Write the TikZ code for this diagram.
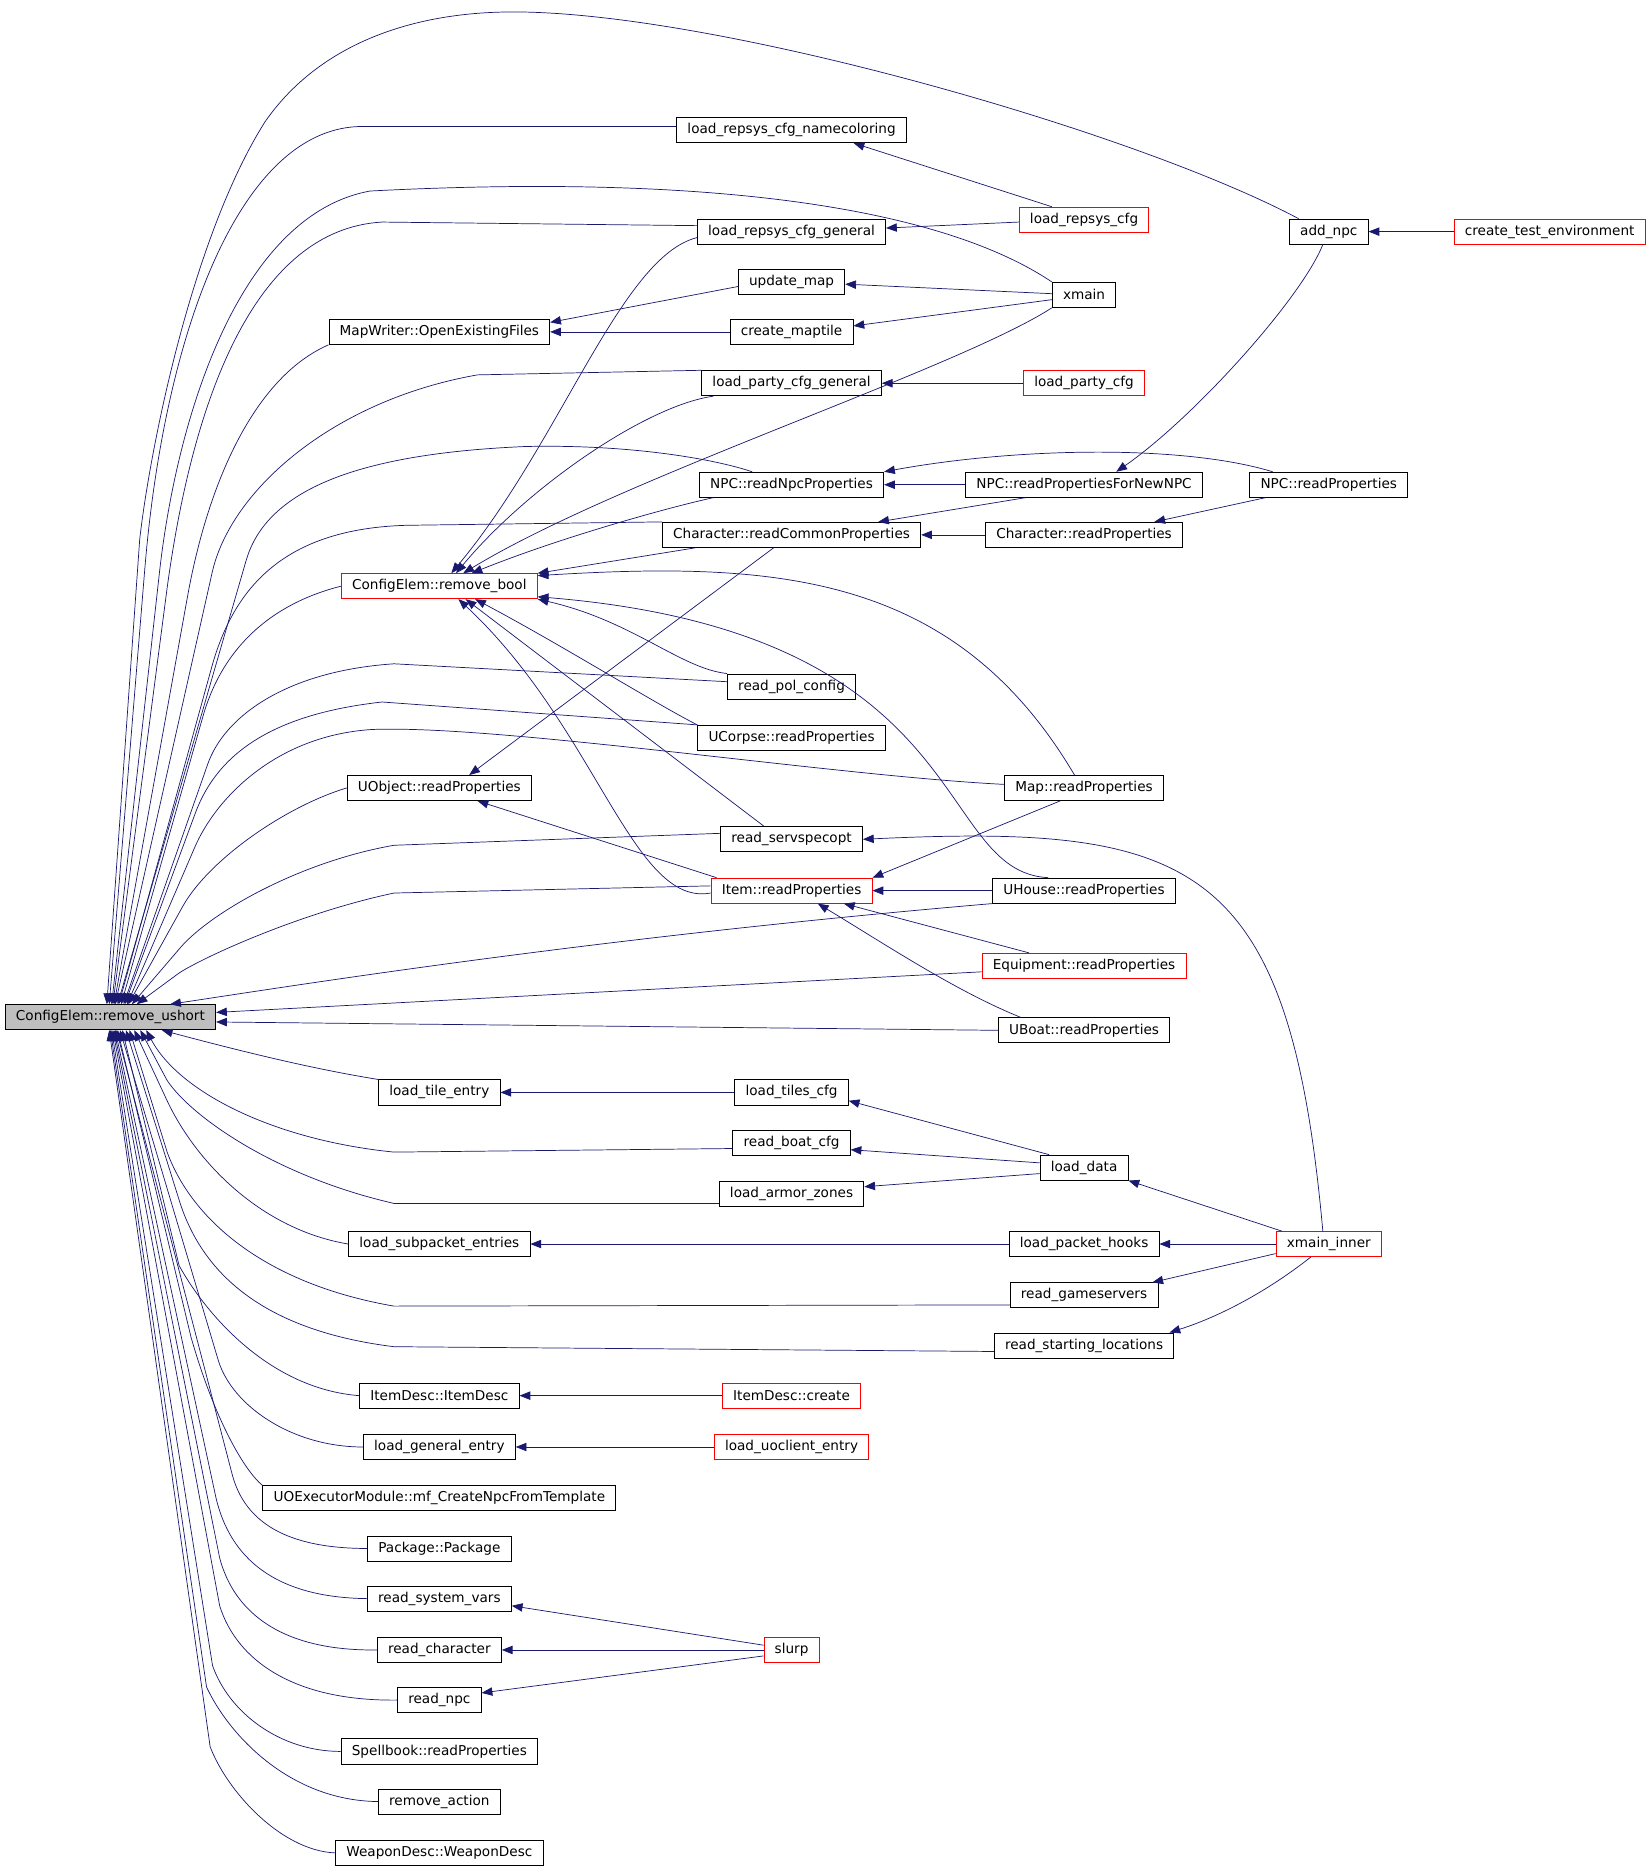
\documentclass[tikz,border=0pt]{standalone}
\usepackage{fontspec}
\setmainfont{DejaVu Sans}
\usetikzlibrary{arrows.meta}
\definecolor{edgeblue}{RGB}{25,25,112}
\definecolor{rootgray}{RGB}{191,191,191}

\begin{document}
\begin{tikzpicture}[
x=1pt, y=1pt,
fn/.style={
  draw,
  rectangle,
  line width=0.7pt,
  minimum height=21pt,
  inner xsep=9pt,
  inner ysep=0pt,
  font=\fontsize{11.4}{13}\selectfont
  },
fnred/.style={
  fn,
  draw=red
  },
fnroot/.style={
  fn,
  fill=rootgray
  },
callarrow/.style={
  <-,
  draw=edgeblue,
  line width=0.6pt
  },
>={Triangle[length=9pt,width=7pt]}
]
\useasboundingbox (0,0) rectangle (1383,-1568);

\node[fnroot] (ushort) at (92.5,-852) {ConfigElem::remove\_ushort};

\foreach \nm/\px/\py/\txt in {
openfiles/368/278/MapWriter::OpenExistingFiles,
uobjread/368/660/UObject::readProperties,
tileentry/368/915/load\_tile\_entry,
subpacket/368/1042/load\_subpacket\_entries,
itemdesc/368/1169/ItemDesc::ItemDesc,
genentry/368/1212/load\_general\_entry,
mfcreate/368/1255/UOExecutorModule::mf\_CreateNpcFromTemplate,
package/368/1297/Package::Package,
sysvars/368/1339/read\_system\_vars,
readchar/368/1382/read\_character,
readnpc/368/1424/read\_npc,
spellbook/368/1467/Spellbook::readProperties,
rmaction/368/1509/remove\_action,
weapondesc/368/1552/WeaponDesc::WeaponDesc,
namecol/663/109/load\_repsys\_cfg\_namecoloring,
repsysgen/663/194/load\_repsys\_cfg\_general,
updatemap/663/236/update\_map,
createmaptile/663/278/create\_maptile,
partygen/663/321/load\_party\_cfg\_general,
npcread/663/406/NPC::readNpcProperties,
charcommon/663/448/Character::readCommonProperties,
polconfig/663/575/read\_pol\_config,
ucorpse/663/618/UCorpse::readProperties,
servspec/663/703/read\_servspecopt,
tilescfg/663/915/load\_tiles\_cfg,
boatcfg/663/957/read\_boat\_cfg,
armorzones/663/1000/load\_armor\_zones,
xmain/908/247/xmain,
npcnew/908/406/NPC::readPropertiesForNewNPC,
charread/908/448/Character::readProperties,
mapread/908/660/Map::readProperties,
uhouse/908/746/UHouse::readProperties,
uboat/908/863/UBoat::readProperties,
loaddata/908/978/load\_data,
packethooks/908/1042/load\_packet\_hooks,
gameservers/908/1085/read\_gameservers,
startloc/908/1127/read\_starting\_locations,
addnpc/1113/194/add\_npc,
npcprops/1113/406/NPC::readProperties}
  \node[fn] (\nm) at (\px,-\py) {\txt};

\foreach \nm/\px/\py/\txt in {
rmbool/368/491/ConfigElem::remove\_bool,
itemread/663/746/Item::readProperties,
itemcreate/663/1169/ItemDesc::create,
uoclient/663/1212/load\_uoclient\_entry,
slurp/663/1382/slurp,
repsyscfg/908/184/load\_repsys\_cfg,
partycfg/908/321/load\_party\_cfg,
equipment/908/809/Equipment::readProperties,
xmaininner/1113/1042/xmain\_inner,
testenv/1298/194/create\_test\_environment}
  \node[fnred] (\nm) at (\px,-\py) {\txt};

% callers of remove_ushort, upper side
\draw[callarrow] ([xshift=-3pt]ushort.north) -- (117,-452) .. controls (125,-380) and (160,-200) .. (222,-102) .. controls (265,-40) and (340,-10) .. (430,-10) .. controls (600,-10) and (950,-110) .. ([xshift=8pt]addnpc.north west);
\draw[callarrow] ([xshift=-1pt]ushort.north) -- (121,-480) .. controls (137,-280) and (200,-110) .. (300,-106) -- ([yshift=3pt]namecol.west);
\draw[callarrow] ([xshift=1pt]ushort.north) -- (133.5,-480) .. controls (148,-350) and (200,-180) .. (310,-160) .. controls (600,-145) and (790,-175) .. (xmain.north west);
\draw[callarrow] ([xshift=2pt]ushort.north) -- (139,-500) .. controls (161,-330) and (215,-192) .. (320,-186) -- ([yshift=5pt]repsysgen.west);
\draw[callarrow] ([xshift=3pt]ushort.north) -- (157,-500) .. controls (175,-400) and (215,-315) .. (openfiles.south west);
\draw[callarrow] ([xshift=4pt]ushort.north) -- (177.6,-480) .. controls (193,-410) and (280,-335) .. (400,-314) -- (partygen.north west);
\draw[callarrow] ([xshift=6pt]ushort.north) -- (206,-470) .. controls (223,-410) and (300,-380) .. (440,-374) .. controls (530,-372) and (600,-385) .. ([xshift=-33pt]npcread.north);
\draw[callarrow] ([xshift=7pt]ushort.north) -- (177,-560) .. controls (196,-490) and (240,-443) .. (340,-440) -- (charcommon.north west);
\draw[callarrow] ([xshift=9pt]ushort.north) -- (170,-600) .. controls (187,-540) and (230,-505) .. (rmbool.west);
\draw[callarrow] ([xshift=11pt]ushort.north) -- (174,-640) .. controls (188,-600) and (240,-562) .. (330,-556) -- ([yshift=4pt]polconfig.west);
\draw[callarrow] ([xshift=12pt]ushort.north) -- (164,-680) .. controls (183,-630) and (230,-598) .. (320,-588) -- (ucorpse.north west);
\draw[callarrow] ([xshift=14pt]ushort.north) -- (163,-710) .. controls (180,-670) and (230,-616) .. (312,-611) .. controls (420,-607) and (700,-650) .. ([yshift=3pt]mapread.west);
\draw[callarrow] ([xshift=15pt]ushort.north) -- (152.6,-760) .. controls (174.5,-720) and (240,-675) .. (uobjread.west);
\draw[callarrow] ([xshift=18pt]ushort.north) -- (150,-795) .. controls (175,-765) and (250,-722) .. (330,-708) -- ([yshift=5pt]servspec.west);
\draw[callarrow] ([xshift=22pt]ushort.north) -- (150,-815) .. controls (170,-802) and (250,-765) .. (330,-748) -- ([yshift=4pt]itemread.west);
\draw[callarrow] ([xshift=50pt]ushort.north) .. controls (250,-825) and (500,-785) .. (uhouse.south west);
\draw[callarrow] ([yshift=4pt]ushort.east) -- ([yshift=-5pt]equipment.west);
\draw[callarrow] ([yshift=-4pt]ushort.east) -- (uboat.west);

% callers of remove_ushort, lower side
\draw[callarrow] ([xshift=43pt]ushort.south) .. controls (200,-880) and (260,-895) .. (tileentry.north west);
\draw[callarrow] ([xshift=30pt]ushort.south) .. controls (150,-915) and (230,-955) .. (330,-965) -- ([yshift=-5pt]boatcfg.west);
\draw[callarrow] ([xshift=25pt]ushort.south) -- (140,-905) .. controls (160,-935) and (230,-985) .. (330,-1008) -- ([yshift=-8pt]armorzones.west);
\draw[callarrow] ([xshift=16pt]ushort.south) -- (140,-965) .. controls (160,-1020) and (220,-1075) .. (330,-1094) -- ([yshift=-8pt]gameservers.west);
\draw[callarrow] ([xshift=13pt]ushort.south) -- (150,-1005) .. controls (170,-1070) and (225,-1115) .. (330,-1128) -- ([yshift=-5pt]startloc.west);
\draw[callarrow] ([xshift=6pt]ushort.south) -- (160,-1120) .. controls (180,-1190) and (205,-1232) .. (mfcreate.north west);
\foreach \nm/\s/\ax/\ay/\bx/\by/\cx/\cy in {
subpacket/20/140/922/165/975/220/1030,
itemdesc/10/150/1060/172/1100/225/1163,
genentry/8/183/1140/195/1178/245/1212,
package/5/194.5/1235/205/1275/240/1297,
sysvars/4/181/1255/193/1305/230/1338,
readchar/3/184/1305/196/1350/235/1383,
readnpc/2/184/1345/198/1390/245/1425,
spellbook/1/178/1395/192/1435/235/1467,
rmaction/0/173/1413/190/1450/240/1508,
weapondesc/-1/176/1463/190/1500/235/1550}
  \draw[callarrow] ([xshift=\s pt]ushort.south) -- (\ax,-\ay) .. controls (\bx,-\by) and (\cx,-\cy) .. (\nm.west);

% callers of remove_bool
\draw[callarrow] ([xshift=10pt]rmbool.north) .. controls (470,-370) and (520,-215) .. ([yshift=-5pt]repsysgen.west);
\draw[callarrow] ([xshift=14pt]rmbool.north) .. controls (440,-410) and (540,-340) .. ([xshift=10pt]partygen.south west);
\draw[callarrow] ([xshift=20pt]rmbool.north) .. controls (520,-400) and (800,-310) .. (xmain.south west);
\draw[callarrow] ([xshift=27pt]rmbool.north) .. controls (470,-450) and (560,-425) .. ([xshift=12pt]npcread.south west);
\draw[callarrow] (rmbool.north east) -- ([xshift=28pt]charcommon.south west);
\draw[callarrow] ([yshift=-2pt]rmbool.north east) .. controls (650,-470) and (800,-480) .. ([xshift=-8pt]mapread.north);
\draw[callarrow] (rmbool.south east) .. controls (530,-520) and (570,-560) .. (polconfig.north west);
\draw[callarrow] ([yshift=2pt]rmbool.south east) .. controls (820,-530) and (780,-730) .. ([xshift=-30pt]uhouse.north);
\draw[callarrow] ([xshift=30pt]rmbool.south) .. controls (470,-540) and (550,-590) .. (ucorpse.north west);
\draw[callarrow] ([xshift=22pt]rmbool.south) -- ([xshift=-23pt]servspec.north);
\draw[callarrow] ([xshift=16pt]rmbool.south) .. controls (500,-610) and (530,-760) .. ([yshift=-2pt]itemread.west);

% the rest
\foreach \a/\b in {openfiles/createmaptile, partygen/partycfg, npcread/npcnew,
  charcommon/charread, addnpc/testenv, itemread/uhouse, tileentry/tilescfg,
  subpacket/packethooks, packethooks/xmaininner, itemdesc/itemcreate,
  genentry/uoclient, readchar/slurp}
  \draw[callarrow] (\a.east) -- (\b.west);
\draw[callarrow] ([xshift=52pt]namecol.south) -- ([xshift=-27pt]repsyscfg.north);
\draw[callarrow] ([yshift=3pt]repsysgen.east) -- ([yshift=-2pt]repsyscfg.west);
\draw[callarrow] ([yshift=8pt]openfiles.east) -- ([yshift=-4pt]updatemap.west);
\draw[callarrow] ([yshift=-2pt]updatemap.east) -- ([yshift=1pt]xmain.west);
\draw[callarrow] ([yshift=5pt]createmaptile.east) -- ([yshift=-4pt]xmain.west);
\draw[callarrow] (npcread.north east) .. controls (850,-375) and (990,-372) .. ([xshift=-47pt]npcprops.north);
\draw[callarrow] ([xshift=-36pt]charcommon.north east) -- ([xshift=-49pt]npcnew.south);
\draw[callarrow] ([xshift=-24pt]charread.north east) -- ([xshift=-53pt]npcprops.south);
\draw[callarrow] ([xshift=27pt]npcnew.north) .. controls (1000,-350) and (1090,-250) .. ([xshift=-5pt]addnpc.south);
\draw[callarrow] ([xshift=25pt]uobjread.north) -- ([xshift=-15pt]charcommon.south);
\draw[callarrow] ([xshift=32pt]uobjread.south) -- ([xshift=5pt]itemread.north west);
\draw[callarrow] (itemread.north east) -- ([xshift=-20pt]mapread.south);
\draw[callarrow] ([xshift=-24pt]itemread.south east) -- ([xshift=-46pt]equipment.north);
\draw[callarrow] ([xshift=22pt]itemread.south) .. controls (740,-790) and (800,-830) .. ([xshift=-53pt]uboat.north);
\draw[callarrow] (servspec.east) .. controls (1000,-690) and (1080,-720) .. ([xshift=-5pt]xmaininner.north);
\draw[callarrow] ([yshift=-7pt]tilescfg.east) -- ([xshift=8pt]loaddata.north west);
\draw[callarrow] ([yshift=-6pt]boatcfg.east) -- ([yshift=4pt]loaddata.west);
\draw[callarrow] ([yshift=6pt]armorzones.east) -- ([yshift=-5pt]loaddata.west);
\draw[callarrow] (loaddata.south east) -- ([xshift=5pt]xmaininner.north west);
\draw[callarrow] ([xshift=-5pt]gameservers.north east) -- ([yshift=-8pt]xmaininner.west);
\draw[callarrow] ([xshift=-4pt]startloc.north east) .. controls (1030,-1100) and (1070,-1075) .. ([xshift=-15pt]xmaininner.south);
\draw[callarrow] ([yshift=-6pt]sysvars.east) -- ([yshift=4pt]slurp.west);
\draw[callarrow] ([yshift=6pt]readnpc.east) -- ([yshift=-5pt]slurp.west);
\end{tikzpicture}
\end{document}
